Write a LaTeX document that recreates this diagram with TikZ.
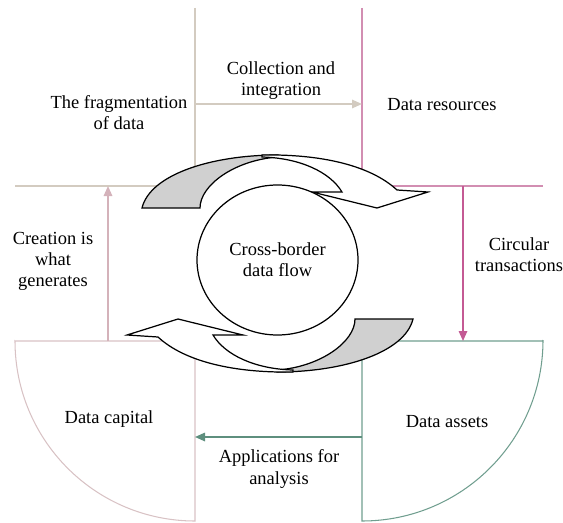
\documentclass[tikz,border=0pt]{standalone}
\usepackage{fontspec}
\setmainfont{Liberation Serif}
\usepackage{tikz}
\usetikzlibrary{shapes,arrows,positioning,calc,arrows.meta}

\definecolor{sandline}{HTML}{D3CBC0}
\definecolor{roseline}{HTML}{D28EB2}
\definecolor{rosearrow}{HTML}{C45A94}
\definecolor{blushline}{HTML}{D8C2C4}
\definecolor{blusharrow}{HTML}{D4B2BA}
\definecolor{sageline}{HTML}{709E8F}
\definecolor{sagearrow}{HTML}{5E8F7E}
\definecolor{backshade}{HTML}{D0D0D0}

\tikzset{
  txt/.style={font=\fontsize{10.5}{12}\selectfont, align=center},
  flow/.style={line width=0.9pt, -{Triangle[length=2mm,width=1.7mm]}},
  loopback/.style={draw=black, line width=0.7pt, fill=backshade},
  loopfront/.style={draw=black, line width=0.7pt, fill=white},
}

\begin{document}
\begin{tikzpicture}
    \useasboundingbox (0,0) rectangle (11.26,10.44);

    % corners of the four fields
    \coordinate (tl) at (3.90,6.72);
    \coordinate (tr) at (7.24,6.72);
    \coordinate (bl) at (3.90,3.62);
    \coordinate (br) at (7.24,3.62);

    % upper fields
    \draw[sandline, line width=0.6pt] (3.90,10.28) -- (tl) -- (0.30,6.72);
    \draw[roseline, line width=0.6pt] (7.24,10.28) -- (tr) -- (10.86,6.72);

    % lower fields (quarter sectors)
    \draw[blushline, line width=0.6pt] (0.30,3.62) -- (bl) -- (3.90,0.02)
        arc[start angle=-90, end angle=-180, radius=3.6] -- cycle;
    \draw[sageline, line width=0.6pt] (10.86,3.62) -- (br) -- (7.24,0.02)
        arc[start angle=-90, end angle=0, radius=3.62] -- cycle;

    % labels
    \node[txt] (frag) at (2.38,8.18) {The fragmentation\\of data};
    \node[txt] (collect) at (5.62,8.83) {Collection and\\integration};
    \node[txt] (res) at (8.84,8.34) {Data resources};
    \node[txt] (create) at (1.06,5.22) {Creation is\\what\\generates};
    \node[txt] (circ) at (10.38,5.34) {Circular\\transactions};
    \node[txt] (cap) at (2.18,2.06) {Data capital};
    \node[txt] (assets) at (8.94,2.00) {Data assets};
    \node[txt] (apps) at (5.58,1.06) {Applications for\\analysis};

    % arrow ends on the field borders
    \coordinate (colA) at (3.90,8.36);
    \coordinate (colB) at (7.24,8.36);
    \coordinate (circA) at (9.26,6.72);
    \coordinate (circB) at (9.26,3.62);
    \coordinate (appA) at (7.24,1.70);
    \coordinate (appB) at (3.90,1.70);
    \coordinate (creA) at (2.16,3.62);
    \coordinate (creB) at (2.16,6.72);

    \draw[flow, sandline] (colA) -- (colB);
    \draw[flow, rosearrow] (circA) -- (circB);
    \draw[flow, sagearrow] (appA) -- (appB);
    \draw[flow, blusharrow] (creA) -- (creB);

    % upper loop arrow
    \filldraw[loopback] (2.84,6.28) .. controls (3.00,6.94) and (4.20,7.34) .. (5.56,7.34)
        -- (5.56,7.30) .. controls (4.70,7.24) and (4.00,6.74) .. (4.00,6.28) -- cycle;
    \filldraw[loopfront] (5.24,7.34) .. controls (6.40,7.36) and (7.40,7.14) .. (7.94,6.64)
        -- (8.56,6.60) -- (7.54,6.28) -- (6.24,6.60) -- (6.84,6.60)
        .. controls (6.60,7.00) and (6.00,7.28) .. (5.24,7.30) -- cycle;

    % lower loop arrow
    \begin{scope}[rotate around={180:(5.55,5.17)}]
    \filldraw[loopback] (2.84,6.28) .. controls (3.00,6.94) and (4.20,7.34) .. (5.56,7.34)
        -- (5.56,7.30) .. controls (4.70,7.24) and (4.00,6.74) .. (4.00,6.28) -- cycle;
    \filldraw[loopfront] (5.24,7.34) .. controls (6.40,7.36) and (7.40,7.14) .. (7.94,6.64)
        -- (8.56,6.60) -- (7.54,6.28) -- (6.24,6.60) -- (6.84,6.60)
        .. controls (6.60,7.00) and (6.00,7.28) .. (5.24,7.30) -- cycle;
    \end{scope}

    \node[txt, draw, ellipse, fill=white, line width=0.7pt, minimum width=3.22cm,
        minimum height=3.0cm] (hub) at (5.55,5.24) {Cross-border\\data flow};
\end{tikzpicture}
\end{document}
